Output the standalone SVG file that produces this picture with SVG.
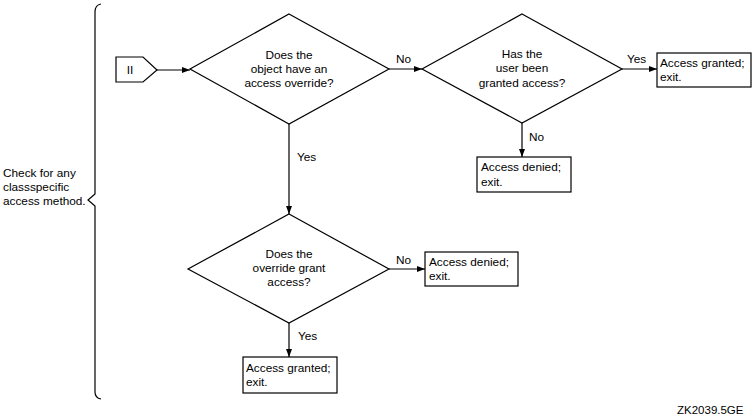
<svg xmlns="http://www.w3.org/2000/svg" width="753" height="420" viewBox="0 0 753 420">
<defs>
<marker id="arr" viewBox="0 0 8 6" refX="8" refY="3" markerWidth="8" markerHeight="6" markerUnits="userSpaceOnUse" orient="auto">
<path d="M0,0 L8,3 L0,6 z" fill="#000"/>
</marker>
<style>
.s{fill:#fff;stroke:#000;stroke-width:1.2}
.l{fill:none;stroke:#000;stroke-width:1.2}
.c{stroke:#000;stroke-width:1.2;fill:none;marker-end:url(#arr)}
text{font-family:"Liberation Sans",Arial,sans-serif;font-size:11.8px;fill:#000}
.m{text-anchor:middle}
</style>
</defs>
<rect width="753" height="420" fill="#fff"/>
<g id="bracket">
<path class="l" d="M101,4 Q95,5 95,12 L95,194 L88,200 L95,206 L95,392 Q95,398 101,399"/>
<text x="3" y="177">Check for any</text>
<text x="3" y="191">classspecific</text>
<text x="3" y="205">access method.</text>
</g>
<g id="start">
<path class="s" d="M116,57 L143,57 L157,70 L143,82 L116,82 z"/>
<text x="130" y="74" class="m">II</text>
</g>
<g id="d1">
<path class="s" d="M289,14 L389,69 L289,124 L190,69 z"/>
<text x="289" y="59" class="m">Does the</text>
<text x="289" y="73" class="m">object have an</text>
<text x="289" y="87" class="m">access override?</text>
</g>
<g id="d2">
<path class="s" d="M522,14 L622,69 L522,123 L422,69 z"/>
<text x="522" y="58" class="m">Has the</text>
<text x="522" y="72" class="m">user been</text>
<text x="522" y="87" class="m">granted access?</text>
</g>
<g id="b1">
<rect class="s" x="657" y="53" width="94" height="34"/>
<text x="660" y="67">Access granted;</text>
<text x="660" y="81">exit.</text>
</g>
<g id="b2">
<rect class="s" x="477" y="157" width="94" height="35"/>
<text x="481" y="171">Access denied;</text>
<text x="481" y="186">exit.</text>
</g>
<g id="d3">
<path class="s" d="M289,214 L389,269 L289,323 L188,269 z"/>
<text x="289" y="258" class="m">Does the</text>
<text x="289" y="272" class="m">override grant</text>
<text x="289" y="286" class="m">access?</text>
</g>
<g id="b3">
<rect class="s" x="425" y="252" width="93" height="34"/>
<text x="429" y="266">Access denied;</text>
<text x="429" y="280">exit.</text>
</g>
<g id="b4">
<rect class="s" x="243" y="357" width="94" height="36"/>
<text x="246" y="372">Access granted;</text>
<text x="246" y="386">exit.</text>
</g>
<g id="connectors">
<path class="c" d="M157,70 L190,70"/>
<path class="c" d="M389,69 L422,69"/>
<text x="396" y="63">No</text>
<path class="c" d="M622,69 L657,69"/>
<text x="627" y="63">Yes</text>
<path class="c" d="M522,123 L522,157"/>
<text x="529" y="141">No</text>
<path class="c" d="M289,124 L289,214"/>
<text x="297" y="161">Yes</text>
<path class="c" d="M389,269 L425,269"/>
<text x="396" y="264">No</text>
<path class="c" d="M289,323 L289,357"/>
<text x="298" y="340">Yes</text>
</g>
<text x="677" y="414" style="font-size:11.5px">ZK2039.5GE</text>
</svg>
